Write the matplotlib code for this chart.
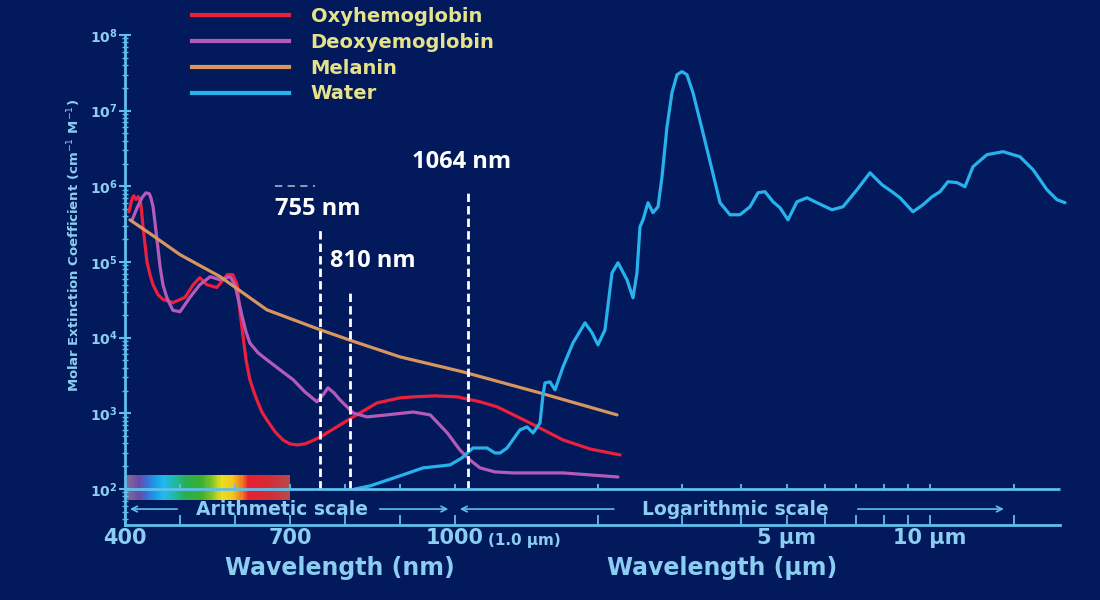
import numpy as np
import matplotlib
matplotlib.use("Agg")
import matplotlib.pyplot as plt
from matplotlib.colors import LinearSegmentedColormap
from matplotlib.lines import Line2D

# ---- data (wavelength in nm, molar extinction) ----
oxy_nm = [407, 413, 416, 420, 424, 427, 429, 433, 440, 446, 451, 460, 469, 487, 509, 524,
          536, 549, 567, 586, 596, 604, 609, 613, 620, 627, 635, 642, 649, 658, 673, 687,
          700, 713, 727, 740, 755, 782, 815, 858, 900, 924, 964, 1010, 1129, 1226, 1438,
          1688, 1924, 2225]
oxy_val = [4.6e5, 6.9e5, 7.5e5, 6.7e5, 7.3e5, 6.7e5, 5.7e5, 2.8e5, 1.0e5, 6.6e4, 5.0e4,
           3.7e4, 3.2e4, 2.9e4, 3.4e4, 5.0e4, 6.2e4, 5.0e4, 4.6e4, 6.8e4, 6.8e4, 5.0e4,
           2.2e4, 1.3e4, 5.1e3, 2.8e3, 1.86e3, 1.37e3, 1.04e3, 818, 568, 445, 394, 382, 394,
           431, 487, 641, 896, 1.37e3, 1.6e3, 1.65e3, 1.7e3, 1.65e3, 1.42e3, 1.22e3, 746,
           445, 338, 282]

deoxy_nm = [413, 422, 431, 438, 444, 447, 451, 455, 458, 464, 469, 476, 487, 500, 518, 536,
            555, 573, 591, 600, 606, 613, 620, 627, 642, 658, 682, 706, 727, 749, 760, 769,
            780, 791, 815, 840, 876, 924, 955, 986, 1024, 1075, 1129, 1214, 1325, 1688, 2204]
deoxy_val = [3.6e5, 5.2e5, 7.1e5, 8.2e5, 8.0e5, 7.1e5, 5.4e5, 3.1e5, 2.0e5, 8.4e4, 5.0e4,
             3.4e4, 2.3e4, 2.2e4, 3.4e4, 5.0e4, 6.4e4, 5.8e4, 6.4e4, 5.0e4, 3.2e4, 1.9e4,
             1.2e4, 8.5e3, 6.3e3, 5.1e3, 3.75e3, 2.77e3, 1.92e3, 1.42e3, 1.75e3, 2.17e3,
             1.86e3, 1.5e3, 1.01e3, 896, 953, 1.04e3, 953, 551, 328, 242, 190, 168, 163, 163,
             144]

mel_nm = [409, 446, 500, 573, 658, 755, 818, 900, 1039, 1510, 2193]
mel_val = [3.6e5, 2.36e5, 1.25e5, 6.4e4, 2.33e4, 1.27e4, 8.8e3, 5.57e3, 3.53e3, 1.86e3, 953]

water_nm = [818, 846, 873, 900, 942, 973, 991, 1034, 1091, 1168, 1214, 1244, 1287, 1370,
            1418, 1460, 1510, 1532, 1547, 1585, 1624, 1688, 1772, 1878, 1943, 2000, 2069,
            2141, 2204, 2302, 2370, 2416, 2452, 2488, 2549, 2611, 2676, 2728, 2795, 2863,
            2934, 3006, 3078, 3170, 3327, 3476, 3614, 3793, 3981, 4180, 4345, 4494, 4673,
            4833, 5024, 5248, 5510, 5782, 6219, 6560, 7020, 7476, 7925, 8318, 8647, 9208,
            9667, 10100, 10500, 10910, 11400, 11850, 12320, 13180, 14250, 15470, 16480,
            17630, 18510, 19240]
water_val = [100, 110, 128, 149, 190, 201, 208, 257, 348, 348, 299, 299, 348, 603, 661, 551,
             746, 1751, 2523, 2602, 2040, 4110, 8530, 1.57e4, 1.16e4, 8030, 1.27e4, 7.19e4,
             9.76e4, 5.82e4, 3.36e4, 7.19e4, 2.92e5, 3.61e5, 6.07e5, 4.48e5, 5.37e5, 1.34e6,
             6.14e6, 1.73e7, 2.99e7, 3.28e7, 2.99e7, 1.73e7, 5.12e6, 1.66e6, 6.07e5, 4.21e5,
             4.21e5, 5.37e5, 8.23e5, 8.49e5, 6.25e5, 5.21e5, 3.61e5, 6.25e5, 7.06e5, 6.07e5,
             4.9e5, 5.37e5, 9.02e5, 1.51e6, 1.05e6, 8.49e5, 7.06e5, 4.61e5, 5.71e5, 7.28e5,
             8.49e5, 1.15e6, 1.12e6, 9.88e5, 1.82e6, 2.62e6, 2.87e6, 2.46e6, 1.66e6, 9.02e5,
             6.65e5, 6.07e5]

labels = ["Oxyhemoglobin", "Deoxyemoglobin", "Melanin", "Water"]

laser_nm = [755, 810, 1064]
laser_top = [2.67e5, 4.28e4, 9.0e5]
laser_text = ["755 nm", "810 nm", "1064 nm"]

tick_nm = [400, 500, 600, 700, 800, 900, 1000, 2000, 3000, 4000, 5000, 6000, 7000, 8000,
           9000, 10000, 15000]
tick_lab = {400: "400", 700: "700", 1000: "1000", 5000: "5 µm", 10000: "10 µm"}

# ---- colours ----
bg = "#021a5c"
axis_c = "#5fbfec"
txt_c = "#8ccdf2"
leg_c = "#e6e28a"
colors = ["#ec1f3c", "#b55ab9", "#d9955e", "#27b2ec"]


# arithmetic scale 400-1000 nm, logarithmic beyond
def fwd(x):
    x = np.asarray(x, dtype=float)
    with np.errstate(divide="ignore", invalid="ignore"):
        lg = 330 + 475 * np.log10(x / 1000)
    return np.where(x <= 1000, (x - 400) * 0.55, lg)


def inv(u):
    u = np.asarray(u, dtype=float)
    with np.errstate(over="ignore"):
        ex = 1000 * 10 ** ((u - 330) / 475)
    return np.where(u <= 330, 400 + u / 0.55, ex)


fig = plt.figure(figsize=(11, 6), dpi=100, facecolor=bg)
ax = fig.add_axes([125 / 1100, 75 / 600, 942 / 1100, 490 / 600])
ax.set_facecolor(bg)
ax.set_xscale("function", functions=(fwd, inv))
ax.set_yscale("log")
ax.set_xlim(400, 19430)
ax.set_ylim(33.4, 1e8)

# spectrum strip under the arithmetic part
spec_stops = [400, 425, 440, 455, 470, 490, 510, 540, 560, 575, 595, 612, 625, 660, 700]
spec_cols = ["#857094", "#6a4aa6", "#3a6fd8", "#1a9ee8", "#20b8f0", "#22b8a8", "#2aae50",
             "#3cb030", "#8cc628", "#e8e020", "#f4c81c", "#f08020", "#e82030", "#d62a36",
             "#b84a4a"]
cmap = LinearSegmentedColormap.from_list(
    "spec", [((s - 400) / 300, c) for s, c in zip(spec_stops, spec_cols)])
sx = np.arange(400, 701, 2)
ax.pcolormesh(sx, [71.6, 153], ((sx[:-1] + sx[1:]) / 2)[None, :], cmap=cmap,
              vmin=400, vmax=700, shading="flat", zorder=1)

# curves
for xs, ys, c in zip([oxy_nm, deoxy_nm, mel_nm, water_nm],
                     [oxy_val, deoxy_val, mel_val, water_val], colors):
    ax.plot(xs, ys, color=c, lw=2.3, solid_joinstyle="round", solid_capstyle="round", zorder=3)

# laser wavelengths
ax.vlines(laser_nm, 100, laser_top, colors="white", lw=2, linestyles=(0, (3, 1.5)), zorder=4)
ax.hlines(1e6, 673, 745, colors="white", lw=1.3, linestyles=(0, (4, 3)), alpha=0.6)
offsets = [(-45, 15), (-20, 23), (-56, 22)]
for nm, top, t, off in zip(laser_nm, laser_top, laser_text, offsets):
    ax.annotate(t, xy=(nm, top), xytext=off, textcoords="offset pixels", color="white",
                fontsize=17, family="Open Sans", weight="bold", ha="left", va="baseline")

# the 10^2 baseline and the scale band
ax.hlines(100, 400, 18800, colors=axis_c, lw=2, zorder=5)
ax.vlines(tick_nm[1:], 100, 118, colors=axis_c, lw=1.3, zorder=5)
arrow = dict(arrowstyle="->", color=axis_c, lw=1.2)
ax.annotate("", xy=(404, 54.3), xytext=(500, 54.3), arrowprops=arrow)
ax.annotate("", xy=(993, 54.3), xytext=(858, 54.3), arrowprops=arrow)
ax.annotate("", xy=(1010, 54.3), xytext=(2190, 54.3), arrowprops=arrow)
ax.annotate("", xy=(14500, 54.3), xytext=(6950, 54.3), arrowprops=arrow)
ax.text(685, 54.3, "Arithmetic scale", color=txt_c, fontsize=13.5, weight="bold",
        ha="center", va="center")
ax.text(3890, 54.3, "Logarithmic scale", color=txt_c, fontsize=13.5, weight="bold",
        ha="center", va="center")

# axes styling
for s in ["top", "right"]:
    ax.spines[s].set_visible(False)
ax.spines["left"].set_color(axis_c)
ax.spines["left"].set_linewidth(2)
ax.spines["bottom"].set_color(axis_c)
ax.spines["bottom"].set_linewidth(2)
ax.spines["bottom"].set_bounds(400, 18800)

ax.set_xticks(tick_nm)
ax.set_xticklabels([tick_lab.get(t, "") for t in tick_nm])
ax.xaxis.set_minor_locator(plt.NullLocator())
ax.tick_params(axis="x", direction="in", length=7, width=1.3, color=axis_c,
               labelcolor=txt_c, labelsize=15, pad=2)
for lab in ax.get_xticklabels():
    lab.set_fontweight("bold")
ax.annotate("(1.0 µm)", xy=(1000, 0), xycoords=("data", "axes fraction"),
            xytext=(33, -16), textcoords="offset pixels", color=txt_c, fontsize=11,
            weight="bold", ha="left", va="center")

ax.set_yticks([1e2, 1e3, 1e4, 1e5, 1e6, 1e7, 1e8])
ax.set_yticklabels([r"$\mathbf{10^{%d}}$" % k for k in range(2, 9)])
ax.yaxis.set_minor_locator(matplotlib.ticker.LogLocator(base=10, subs=np.arange(2, 10)))
ax.yaxis.set_minor_formatter(plt.NullFormatter())
ax.tick_params(axis="y", which="major", direction="inout", length=9, width=1.5,
               color=axis_c, labelcolor=txt_c, labelsize=10, pad=1)
ax.tick_params(axis="y", which="minor", direction="inout", length=5, width=1,
               color=axis_c)

fig.text(74 / 1100, 1 - 245 / 600, "Molar Extinction Coefficient (cm$^{-1}$ M$^{-1}$)",
         rotation=90, color=txt_c, fontsize=9.5, weight="bold", ha="center", va="center")
fig.text(340 / 1100, 1 - 568 / 600, "Wavelength (nm)", color=txt_c, fontsize=17,
         weight="bold", ha="center", va="center")
fig.text(722 / 1100, 1 - 568 / 600, "Wavelength (µm)", color=txt_c, fontsize=17,
         weight="bold", ha="center", va="center")

# legend
handles = [Line2D([], [], color=c, lw=3) for c in colors]
leg = ax.legend(handles, labels, loc="upper left", bbox_to_anchor=(192 / 1100, 1 - 7 / 600),
                bbox_transform=fig.transFigure, frameon=False, fontsize=14,
                handlelength=5.0, handletextpad=1.1, labelspacing=0.35,
                borderpad=0, borderaxespad=0, labelcolor=leg_c)
for t in leg.get_texts():
    t.set_fontweight("bold")

fig.savefig("out.png", dpi=100, facecolor=bg)
